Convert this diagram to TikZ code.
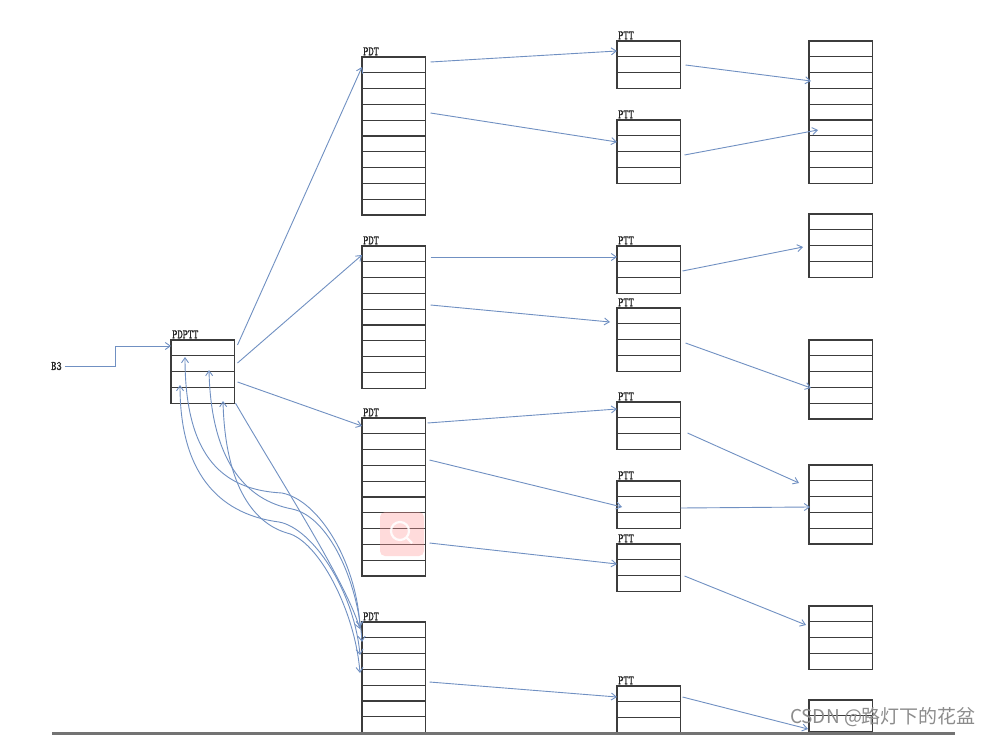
\documentclass[tikz,border=0pt]{standalone}
\usepackage{fontspec}
\newfontfamily\cjkf{Noto Sans CJK SC}
\newfontfamily\lblf{Latin Modern Mono}[FakeBold=1.2]
\usetikzlibrary{arrows.meta,calc}
\definecolor{arrc}{HTML}{7090C2}
\definecolor{boxc}{HTML}{3C3C3C}
\tikzset{
  tbox/.style={draw=boxc, line width=1.25pt, minimum width=63.5pt, inner sep=0pt, outer sep=0pt, anchor=north west},
  rowline/.style={draw=boxc, line width=1.2pt},
  lbl/.style={font=\lblf\fontsize{10}{10}\selectfont, inner sep=0pt, anchor=south west, text=black!85},
  arr/.style={draw=arrc, line width=0.9pt, -{Straight Barb[length=5pt,width=7pt]}},
  darr/.style={draw=arrc, line width=0.9pt, {Straight Barb[length=5pt,width=7pt]}-{Straight Barb[length=5pt,width=7pt]}},
}
\newcommand\tbl[5]{%
  \node[tbox, minimum height=#4*15.8pt] (#1) at (#2,#3) {};
  \foreach \i in {1,...,#4}{\draw[rowline] ([yshift=-\i*15.8pt]#1.north west) -- ([yshift=-\i*15.8pt]#1.north east);}
  \ifx\relax#5\relax\else
    \node[lbl] (#1l) at ([xshift=1pt,yshift=1.5pt]#1.north west) {\scalebox{1}[1.3]{#5}};
  \fi
}
\begin{document}
\begin{tikzpicture}[x=1pt,y=-1pt]
\useasboundingbox[fill=white] (0,0) rectangle (995,735);
% tables
\tbl{pdptt}{171}{340}{4}{PDPTT}
\tbl{pdt1}{362}{57}{10}{PDT}
\tbl{pdt2}{362}{246}{9}{PDT}
\tbl{pdt3}{362}{418}{10}{PDT}
\tbl{pdt4}{362}{622}{7}{PDT}
\tbl{ptt1}{617}{41}{3}{PTT}
\tbl{ptt2}{617}{120}{4}{PTT}
\tbl{ptt3}{617}{246}{3}{PTT}
\tbl{ptt4}{617}{308}{4}{PTT}
\tbl{ptt5}{617}{402}{3}{PTT}
\tbl{ptt6}{617}{481}{3}{PTT}
\tbl{ptt7}{617}{544}{3}{PTT}
\tbl{ptt8}{617}{686}{3}{PTT}
\tbl{r1}{809}{41}{9}{}
\tbl{r2}{809}{214}{4}{}
\tbl{r3}{809}{340}{5}{}
\tbl{r4}{809}{465}{5}{}
\tbl{r5}{809}{606}{4}{}
\tbl{r6}{809}{700}{2}{}
% B3
\node[lbl, anchor=west] (b3) at (51,366) {\scalebox{1}[1.3]{B3}};
\draw[arr] ($(b3.east)+(3,0)$) -- ++(51,0) |- ($(pdptt.north west)+(0,6)$);
% PDPTT -> PDTs
\draw[arr] ($(pdptt.north east)+(3,5)$) -- ($(pdt1.north west)+(0,10)$);
\draw[arr] ($(pdptt.north east)+(3,23)$) -- ($(pdt2.north west)+(0,9)$);
\draw[arr] ($(pdptt.north east)+(3,42)$) -- ($(pdt3.north west)+(0,8)$);
% braid between PDPTT and the last PDT
\coordinate (m1) at (282,493);
\coordinate (m2) at (292,509);
\coordinate (m3) at (279,522);
\coordinate (m4) at (287,533);
\draw[darr] ($(pdptt.north west)+(14,17)$) .. controls (185,460) and (225,490) .. (m1)
   .. controls (318,500) and (356,560) .. ($(pdt4.north west)+(-2,5)$);
\draw[darr] ($(pdptt.north west)+(38,30)$) .. controls (211,460) and (245,500) .. (m2)
   .. controls (328,516) and (358,580) .. ($(pdt4.north west)+(0,20)$);
\draw[darr] ($(pdptt.north west)+(9,45)$) .. controls (180,480) and (225,515) .. (m3)
   .. controls (312,528) and (354,590) .. ($(pdt4.north west)+(-2,33)$);
\draw[darr] ($(pdptt.north west)+(52,61)$) .. controls (225,480) and (250,522) .. (m4)
   .. controls (318,540) and (355,610) .. ($(pdt4.north west)+(-2,51)$);
\draw[arr] ($(pdptt.south east)+(1,0)$) .. controls (280,480) and (345,580) .. ($(pdt4.north west)+(-2,7)$);
% PDT -> PTT
\draw[arr] ($(pdt1.north east)+(5,5)$) -- ($(ptt1.north west)+(0,10)$);
\draw[arr] ($(pdt1.north east)+(5,56)$) -- ($(ptt2.north west)+(0,22)$);
\draw[arr] ($(pdt2.north east)+(5,11)$) -- ($(ptt3.north west)+(0,11)$);
\draw[arr] ($(pdt2.north east)+(5,59)$) -- ($(ptt4.north west)+(-7,14)$);
\draw[arr] ($(pdt3.north east)+(2,5)$) -- ($(ptt5.north west)+(0,7)$);
\draw[arr] ($(pdt3.north east)+(4,42)$) -- ($(ptt6.north west)+(5,26)$);
\draw[arr] ($(pdt3.north east)+(4,125)$) -- ($(ptt7.north west)+(0,20)$);
\draw[arr] ($(pdt4.north east)+(4,60)$) -- ($(ptt8.north west)+(0,11)$);
% PTT -> pages
\draw[arr] ($(ptt1.north east)+(5,24)$) -- ($(r1.north west)+(2,40)$);
\draw[arr] ($(ptt2.north east)+(4,35)$) -- ($(r1.north west)+(9,89)$);
\draw[arr] ($(ptt3.north east)+(2,25)$) -- ($(r2.north west)+(-6,33)$);
\draw[arr] ($(ptt4.north east)+(5,35)$) -- ($(r3.north west)+(2,48)$);
\draw[arr] ($(ptt5.north east)+(7,31)$) -- ($(r4.north west)+(-10,18)$);
\draw[arr] ($(ptt6.north east)+(0,27)$) -- ($(r4.north west)+(1,42)$);
\draw[arr] ($(ptt7.north east)+(4,32)$) -- ($(r5.north west)+(-3,19)$);
\draw[arr] ($(ptt8.north east)+(2,11)$) -- ($(r6.north west)+(-1,29)$);
% bottom rule
\coordinate (bl) at (52,733.5);
\coordinate (br) at (955,733.5);
\draw[draw=black!55, line width=2.5pt] (bl) -- (br);
% overlay icon
\node[fill=red!40, fill opacity=0.35, rounded corners=5pt, minimum size=44pt, inner sep=0pt] (mag) at (402,534) {};
\draw[white, line width=2.2pt, opacity=0.9] (400,531) circle (9) (406.5,537.5) -- (412,543);
% watermark
\node[font=\cjkf\fontsize{19}{19}\selectfont, text=black!45, inner sep=0pt] (wm) at (883,717) {CSDN @路灯下的花盆};
\end{tikzpicture}
\end{document}
